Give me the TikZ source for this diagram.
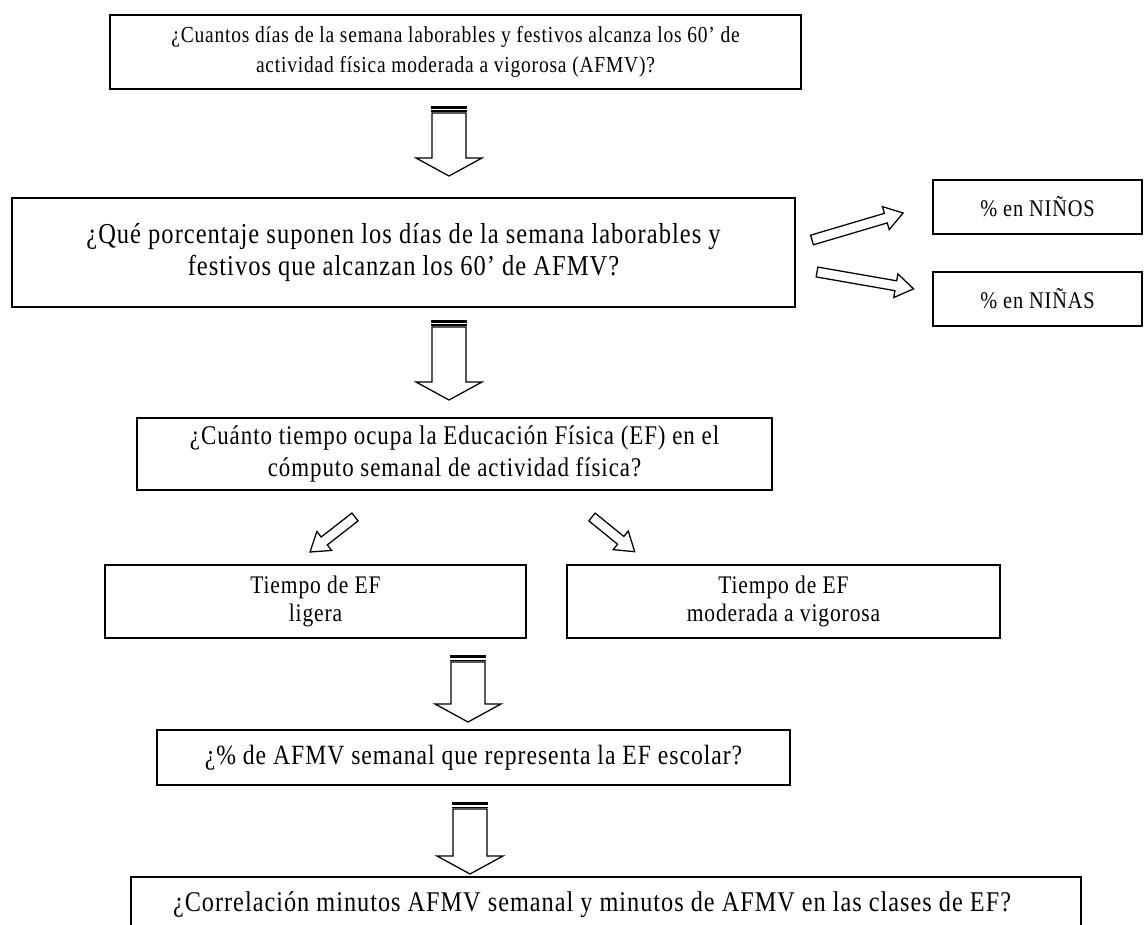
\documentclass[tikz,border=0pt]{standalone}
\usepackage{fontspec}
\setmainfont{Liberation Serif}[FakeStretch=0.85,LetterSpace=3.5]
\newcommand\letra[1]{\fontsize{#1}{23}\selectfont}
\tikzset{
	caja/.style n args={2}{draw,line width=1.1pt,align=center,inner sep=0pt,
		minimum width=#1*0.025cm,minimum height=#2*0.025cm},
	flecha/.style={draw,line width=0.9pt,line join=miter,fill=white},
	flechaabajo/.pic={
		\fill (-18,0) rectangle (18,3);
		\fill (-18,4.5) rectangle (18,6);
		\draw[flecha] (-17,7) -- (17,7) -- (17,#1-18) -- (33,#1-18) -- (0,#1)
			-- (-33,#1-18) -- (-17,#1-18) -- cycle;
	},
	flechad/.pic={
		\draw[flecha] (0,-5) -- (#1-18,-5) -- (#1-18,-12) -- (#1,0)
			-- (#1-18,12) -- (#1-18,5) -- (0,5) -- cycle;
	},
}
\begin{document}
\begin{tikzpicture}[x=0.025cm,y=-0.025cm]
%					Cadre de la page :
					\clip (0,0) rectangle (1144,925);
%					Tracé des cadres :
					\node[caja={691}{74},font=\fontsize{16.3}{21.5}\selectfont] (dias) at (455.5,52)
						{¿Cuantos días de la semana laborables y festivos alcanza los 60’ de\\actividad física moderada a vigorosa (AFMV)?};
					\node[caja={783}{109},font=\letra{20.5}] (porcentaje) at (403.5,252.5)
						{¿Qué porcentaje suponen los días de la semana laborables y\\festivos que alcanzan los 60’ de AFMV?};
					\node[caja={209}{54},font=\letra{17}] (ninos) at (1037.5,207) {\% en NIÑOS};
					\node[caja={209}{54},font=\letra{17}] (ninas) at (1037.5,299) {\% en NIÑAS};
					\node[caja={635}{72},font=\letra{19.2}] (tiempo) at (454.5,454)
						{¿Cuánto tiempo ocupa la Educación Física (EF) en el\\cómputo semanal de actividad física?};
					\node[caja={421}{73},font=\fontsize{18}{20}\selectfont] (ligera) at (315.5,601.5) {Tiempo de EF\\ligera};
					\node[caja={433}{73},font=\fontsize{18}{20}\selectfont] (moderada) at (783.5,601.5) {Tiempo de EF\\moderada a vigorosa};
					\node[caja={633}{55},font=\letra{19.8}] (escolar) at (473.5,757.5)
						{¿\% de AFMV semanal que representa la EF escolar?};
					\node[caja={950}{90},font=\letra{20.3},text depth=40*0.025cm] (correlacion) at (606,922)
						{¿Correlación minutos AFMV semanal y minutos de AFMV en las clases de EF?\hspace*{0.7cm}};
%					Tracé des flèches :
					\pic at (449,106) {flechaabajo=70};
					\pic at (449,320) {flechaabajo=80};
					\pic at (468,655) {flechaabajo=67};
					\pic at (470,802) {flechaabajo=72};
					\pic[rotate=16.5] at (812,240) {flechad=95};
					\pic[rotate=-9.9] at (817,272) {flechad=98};
					\pic[rotate=-142.1] at (355,517) {flechad=57};
					\pic[rotate=-39.1] at (592,517) {flechad=55};
				\end{tikzpicture}
\end{document}
